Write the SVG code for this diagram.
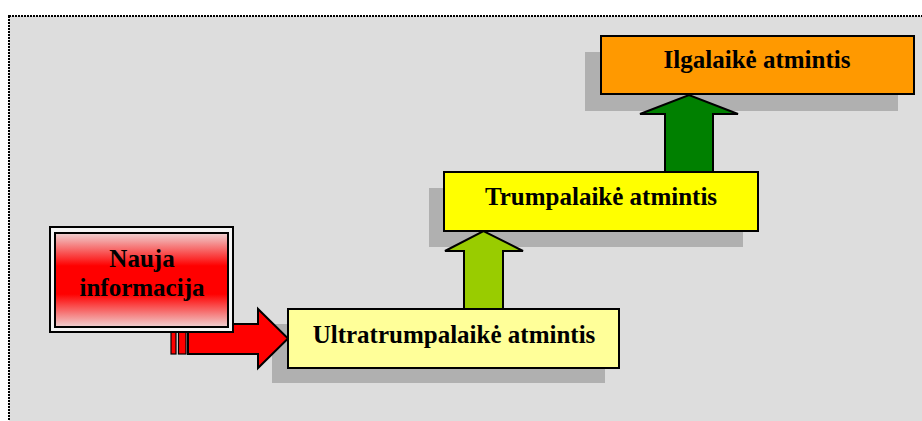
<svg xmlns="http://www.w3.org/2000/svg" width="922" height="421" viewBox="0 0 922 421">
<defs>
<linearGradient id="redg" x1="0" y1="0" x2="0" y2="1">
<stop offset="0" stop-color="#EFD2D2"/>
<stop offset="0.35" stop-color="#FF0000"/>
<stop offset="0.65" stop-color="#FF0000"/>
<stop offset="1" stop-color="#EFD2D2"/>
</linearGradient>
</defs>
<style>
.bg{fill:#DDDDDD;stroke:#000;stroke-width:2;stroke-dasharray:2 1}
.sh{fill:#B0B0B0}
.box{stroke:#000;stroke-width:2}
.lbl{font-family:"Liberation Serif","Times New Roman",serif;font-weight:bold;font-size:25px;fill:#000;text-anchor:middle}
.arr{stroke:#000;stroke-width:2;stroke-linejoin:miter}
.stripe{stroke:#000;stroke-width:1.2;fill:#FF0000}
</style>
<rect class="bg" x="9" y="16" width="925" height="420"/>
<g id="shadows">
<rect class="sh" x="272" y="324" width="333" height="59"/>
<rect class="sh" x="429" y="188" width="314" height="59"/>
<rect class="sh" x="585" y="52" width="313" height="59"/>
</g>
<g id="connectors">
<g id="arrow-red">
<rect class="stripe" x="171" y="324" width="5" height="30"/>
<rect class="stripe" x="178.5" y="324" width="7.5" height="30"/>
<polygon class="arr" fill="#FF0000" points="188,324 258,324 258,309 288,338.5 258,368 258,354 188,354"/>
</g>
<polygon id="arrow-lightgreen" class="arr" fill="#99CC00" points="464,309 464,251 445,251 483.5,231 523,251 503,251 503,309"/>
<polygon id="arrow-green" class="arr" fill="#008000" points="665,172 665,114 640,114 689,95 738,114 713,114 713,172"/>
</g>
<g id="node-nauja">
<rect class="box" x="50" y="227" width="183" height="105" fill="#F4F4F4"/>
<rect class="box" x="55" y="233" width="173" height="94" fill="url(#redg)"/>
<text class="lbl" x="142" y="267">Nauja</text>
<text class="lbl" x="142" y="296">informacija</text>
</g>
<g id="node-ultra">
<rect class="box" x="288" y="309" width="331" height="59" fill="#FFFF99"/>
<text class="lbl" x="454" y="343">Ultratrumpalaikė atmintis</text>
</g>
<g id="node-trumpa">
<rect class="box" x="444" y="172" width="314" height="59" fill="#FFFF00"/>
<text class="lbl" x="601" y="205">Trumpalaikė atmintis</text>
</g>
<g id="node-ilga">
<rect class="box" x="601" y="36" width="313" height="58" fill="#FF9900"/>
<text class="lbl" x="757" y="68">Ilgalaikė atmintis</text>
</g>
</svg>
